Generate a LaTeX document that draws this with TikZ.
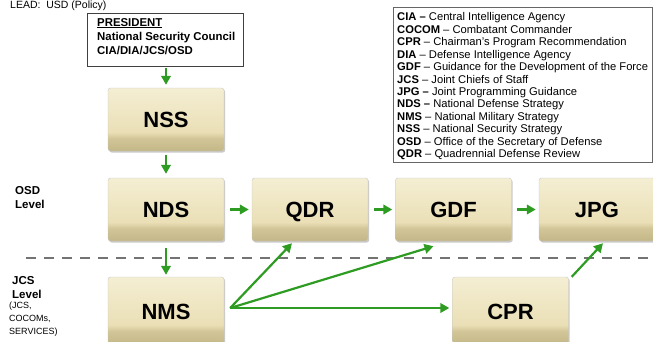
\documentclass[tikz,border=0pt]{standalone}
\usepackage{fontspec}
\setmainfont{Liberation Sans}
\usetikzlibrary{arrows.meta,shadows,calc}
\definecolor{grn}{HTML}{2E9B22}
\definecolor{tanTop}{HTML}{F4EED3}
\definecolor{tanMid}{HTML}{EADFB6}
\definecolor{tanBotB}{HTML}{D2C597}
\definecolor{tanBot}{HTML}{C3B687}
\pgfdeclareverticalshading{stageshade}{100bp}{color(0bp)=(tanBot); color(25bp)=(tanBot); color(35bp)=(tanBotB); color(40bp)=(tanMid); color(75bp)=(tanTop); color(100bp)=(tanTop)}
\tikzset{
 stage/.style={draw=black!22, line width=0.4pt, rounded corners=2.5pt, minimum width=116pt, minimum height=63pt, inner sep=0pt, text height=16pt, text depth=0pt, shading=stageshade, font=\fontsize{22}{24}\selectfont\bfseries, drop shadow={shadow xshift=1.2pt, shadow yshift=-1.5pt, opacity=0.35, fill=black!60}},
 flow/.style={draw=grn, line width=2.2pt, -{Triangle[length=9pt,width=9.5pt]}},
 sidelab/.style={font=\fontsize{11.5}{14}\selectfont\bfseries, align=left, anchor=north west, inner sep=0pt},
}
\begin{document}
\begin{tikzpicture}[x=1pt,y=-1pt]
\useasboundingbox (0,0) rectangle (653,341);
% top label
\node[anchor=north west, inner sep=0pt, font=\fontsize{10.5}{12}\selectfont] (lead) at (10,0.8) {LEAD:\ \ USD (Policy)};
% president box
\node[draw=black!75, line width=0.6pt, fill=white, anchor=north west, minimum width=156pt, minimum height=53pt, inner sep=0pt] (pres) at (87,12.5) {};
\node[anchor=north west, inner sep=0pt, align=left, font=\fontsize{11.4}{14}\selectfont\bfseries] (prestext) at (97,18) {\underline{PRESIDENT}\\National Security Council\\CIA/DIA/JCS/OSD};
% legend
\node[draw=black!60, line width=0.6pt, fill=white, anchor=north west, minimum width=259pt, minimum height=155pt, inner sep=0pt] (leg) at (393,7) {};
\node[anchor=north west, inner sep=0pt, align=left, font=\fontsize{11.2}{12.45}\selectfont] (legtext) at (397,12.5) {%
\textbf{CIA –} Central Intelligence Agency\\
\textbf{COCOM} – Combatant Commander\\
\textbf{CPR} – Chairman’s Program Recommendation\\
\textbf{DIA} – Defense Intelligence Agency\\
\textbf{GDF} – Guidance for the Development of the Force\\
\textbf{JCS} – Joint Chiefs of Staff\\
\textbf{JPG –} Joint Programming Guidance\\
\textbf{NDS –} National Defense Strategy\\
\textbf{NMS} – National Military Strategy\\
\textbf{NSS} – National Security Strategy\\
\textbf{OSD} – Office of the Secretary of Defense\\
\textbf{QDR} – Quadrennial Defense Review};
% dashed separator
\coordinate (dashL) at (26,258);
\coordinate (dashR) at (660,258);
\draw[draw=black!55, line width=2.6pt, dash pattern=on 10pt off 8pt] (dashL) -- (dashR);
% side labels
\node[sidelab] (osd) at (15,186) {OSD\\Level};
\node[sidelab] (jcs) at (12,276) {JCS\\Level};
\node[anchor=north west, inner sep=0pt, align=left, font=\fontsize{9}{13}\selectfont] (jcssub) at (9,302) {(JCS,\\COCOMs,\\SERVICES)};
% stage boxes
\node[stage] (NSS) at (166,119.5) {NSS};
\node[stage] (NDS) at (166,209.5) {NDS};
\node[stage] (QDR) at (310,209.5) {QDR};
\node[stage] (GDF) at (453.5,209.5) {GDF};
\node[stage] (JPG) at (597,209.5) {JPG};
\node[stage, minimum height=68pt] (NMS) at (166,311) {NMS};
\node[stage, minimum height=68pt] (CPR) at (510.5,311) {CPR};
% arrows
\draw[flow, shorten <=2pt, shorten >=3pt] (pres.south -| NSS.north) -- (NSS.north);
\draw[flow, shorten <=4pt, shorten >=4pt] (NSS.south) -- (NDS.north);
\draw[flow, shorten <=7pt, shorten >=2pt] (NDS.south) -- (NMS.north);
\draw[flow, shorten <=6pt, shorten >=3pt] (NDS.east) -- (QDR.west);
\draw[flow, shorten <=6pt, shorten >=3pt] (QDR.east) -- (GDF.west);
\draw[flow, shorten <=5pt, shorten >=3pt] (GDF.east) -- (JPG.west);
\coordinate (fan) at ($(NMS.east |- 0,308)+(6,0)$);
\draw[flow] (fan) -- ($(QDR.south)+(-18,2)$);
\draw[flow] (fan) -- ($(GDF.south)+(-20,5)$);
\draw[flow, shorten >=3pt] (fan) -- (CPR.west |- fan);
\draw[flow] ($(CPR.north east)+(3,0)$) -- ($(JPG.south)+(6,2)$);
\end{tikzpicture}
\end{document}
